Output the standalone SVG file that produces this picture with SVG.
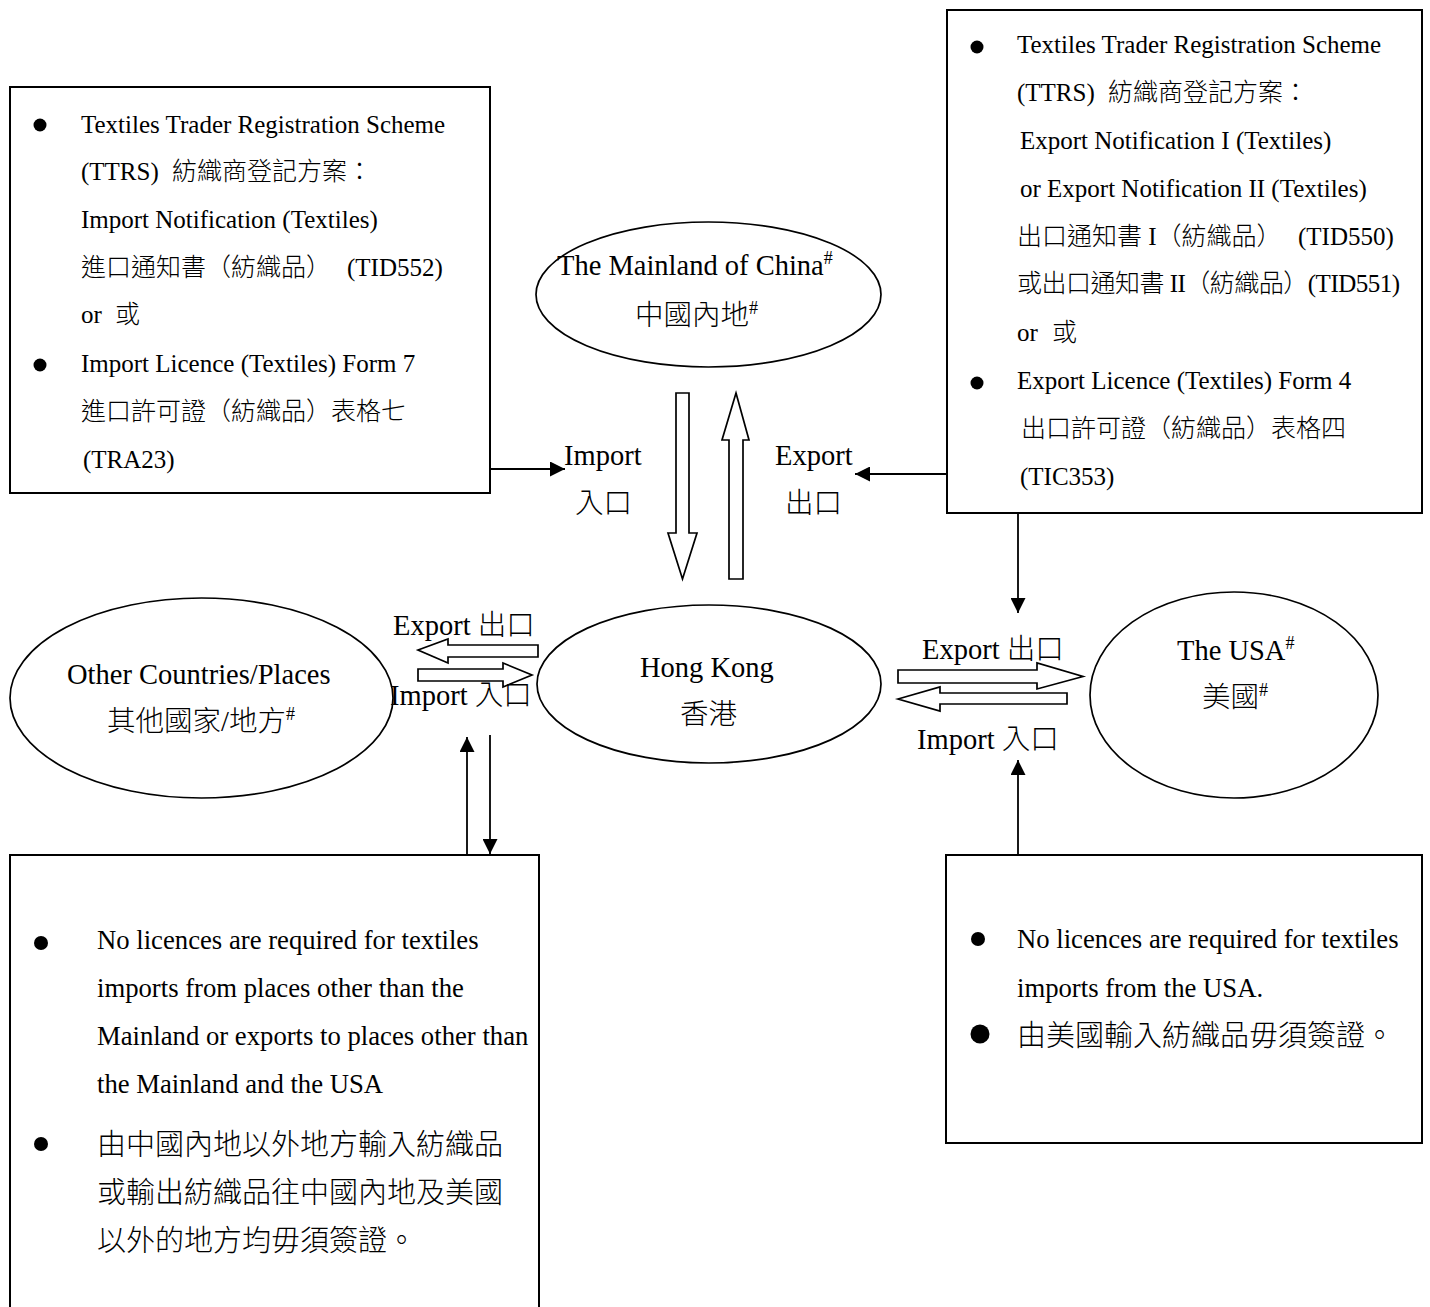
<svg xmlns="http://www.w3.org/2000/svg" width="1430" height="1307" viewBox="0 0 1430 1307">
<style>
  .box { fill: #fff; stroke: #000; stroke-width: 2; }
  .ell { fill: #fff; stroke: #000; stroke-width: 1.7; }
  .hollow { fill: #fff; stroke: #000; stroke-width: 1.7; stroke-linejoin: miter; }
  .conn { fill: none; stroke: #000; stroke-width: 1.8; }
  text { font-family: "Liberation Serif", "Noto Sans CJK TC", serif; fill: #000; font-weight: 300; }
  .bx { font-size: 25px; }
  .bb { font-size: 26.7px; }
  .cjk { font-size: 29px; }
  .lbl { font-size: 28.5px; }
  .sup { font-size: 18px; font-weight: 400; }
  .dot { fill: #000; }
</style>
<defs>
  <marker id="ah" markerUnits="userSpaceOnUse" markerWidth="15" markerHeight="15" refX="15" refY="7.5" orient="auto">
    <path d="M0,0 L15,7.5 L0,15 Z" fill="#000"/>
  </marker>
</defs>
<rect width="1430" height="1307" fill="#fff"/>

<g id="box-import-docs">
  <rect class="box" x="10" y="87" width="480" height="406"/>
  <circle class="dot" cx="40" cy="125" r="6.5"/>
  <circle class="dot" cx="40" cy="365" r="6.5"/>
  <text class="bx" x="81" y="133">Textiles Trader Registration Scheme</text>
  <text class="bx" y="180"><tspan x="81">(TTRS)</tspan><tspan x="172">紡織商登記方案：</tspan></text>
  <text class="bx" x="81" y="228">Import Notification (Textiles)</text>
  <text class="bx" y="276"><tspan x="81">進口通知書（紡織品）</tspan><tspan x="347">(TID552)</tspan></text>
  <text class="bx" y="323"><tspan x="81">or</tspan><tspan x="115">或</tspan></text>
  <text class="bx" x="81" y="372">Import Licence (Textiles) Form 7</text>
  <text class="bx" x="81" y="420">進口許可證（紡織品）表格七</text>
  <text class="bx" x="83" y="468">(TRA23)</text>
</g>

<g id="box-export-docs">
  <rect class="box" x="947" y="10" width="475" height="503"/>
  <circle class="dot" cx="977" cy="47" r="6.5"/>
  <circle class="dot" cx="977" cy="383" r="6.5"/>
  <text class="bx" x="1017" y="53">Textiles Trader Registration Scheme</text>
  <text class="bx" y="101"><tspan x="1017">(TTRS)</tspan><tspan x="1108">紡織商登記方案：</tspan></text>
  <text class="bx" x="1020" y="149">Export Notification I (Textiles)</text>
  <text class="bx" x="1020" y="197">or Export Notification II (Textiles)</text>
  <text class="bx" y="245"><tspan x="1017">出口通知書 I（紡織品）</tspan><tspan x="1298">(TID550)</tspan></text>
  <text class="bx" x="1017" y="292" textLength="383" lengthAdjust="spacing">或出口通知書 II（紡織品）(TID551)</text>
  <text class="bx" y="341"><tspan x="1017">or</tspan><tspan x="1052">或</tspan></text>
  <text class="bx" x="1017" y="389">Export Licence (Textiles) Form 4</text>
  <text class="bx" x="1021" y="437">出口許可證（紡織品）表格四</text>
  <text class="bx" x="1020" y="485">(TIC353)</text>
</g>

<g id="box-other-note">
  <rect class="box" x="10" y="855" width="529" height="470"/>
  <circle class="dot" cx="41" cy="943" r="7"/>
  <circle class="dot" cx="41" cy="1144" r="7"/>
  <text class="bb" x="97" y="949">No licences are required for textiles</text>
  <text class="bb" x="97" y="997">imports from places other than the</text>
  <text class="bb" x="97" y="1045">Mainland or exports to places other than</text>
  <text class="bb" x="97" y="1093">the Mainland and the USA</text>
  <text class="cjk" x="97" y="1155">由中國內地以外地方輸入紡織品</text>
  <text class="cjk" x="97" y="1203">或輸出紡織品往中國內地及美國</text>
  <text class="cjk" x="97" y="1251">以外的地方均毋須簽證。</text>
</g>

<g id="box-usa-note">
  <rect class="box" x="946" y="855" width="476" height="288"/>
  <circle class="dot" cx="978" cy="939" r="7"/>
  <circle class="dot" cx="980" cy="1034" r="9.5"/>
  <text class="bb" x="1017" y="948">No licences are required for textiles</text>
  <text class="bb" x="1017" y="997">imports from the USA.</text>
  <text class="cjk" x="1017" y="1046">由美國輸入紡織品毋須簽證。</text>
</g>

<g id="node-mainland">
  <ellipse class="ell" cx="708.5" cy="294.5" rx="172.5" ry="72.5"/>
  <text class="lbl" x="557" y="275">The Mainland of China<tspan class="sup" dy="-11">#</tspan></text>
  <text class="lbl" x="635" y="325">中國內地<tspan class="sup" dy="-11">#</tspan></text>
</g>

<g id="node-hongkong">
  <ellipse class="ell" cx="709" cy="684" rx="172" ry="79"/>
  <text class="lbl" x="640" y="677">Hong Kong</text>
  <text class="lbl" x="680" y="724">香港</text>
</g>

<g id="node-other">
  <ellipse class="ell" cx="201.5" cy="698" rx="191.5" ry="100"/>
  <text class="lbl" x="67" y="684">Other Countries/Places</text>
  <text class="lbl" x="107" y="731">其他國家/地方<tspan class="sup" dy="-11">#</tspan></text>
</g>

<g id="node-usa">
  <ellipse class="ell" cx="1234" cy="695" rx="144" ry="103"/>
  <text class="lbl" x="1177" y="660">The USA<tspan class="sup" dy="-11">#</tspan></text>
  <text class="lbl" x="1202" y="707">美國<tspan class="sup" dy="-11">#</tspan></text>
</g>

<g id="connectors">
  <polygon class="hollow" points="676,393 689,393 689,533 697,533 682.5,579 668,533 676,533"/>
  <polygon class="hollow" points="736,393 749,440 743,440 743,579 729,579 729,440 722,440"/>
  <polygon class="hollow" points="418,650 448,639 448,645 538,645 538,657 448,657 448,663"/>
  <polygon class="hollow" points="418,669 503,669 503,663 532,675 503,687 503,681 418,681"/>
  <polygon class="hollow" points="898,670 1037,670 1037,663 1083,676.5 1037,689 1037,683 898,683"/>
  <polygon class="hollow" points="898,699 940,687 940,693 1067,693 1067,704 940,704 940,711"/>
  <line class="conn" x1="490" y1="469" x2="565" y2="469" marker-end="url(#ah)"/>
  <line class="conn" x1="947" y1="474" x2="855" y2="474" marker-end="url(#ah)"/>
  <line class="conn" x1="1018" y1="513" x2="1018" y2="613" marker-end="url(#ah)"/>
  <line class="conn" x1="1018" y1="855" x2="1018" y2="760" marker-end="url(#ah)"/>
  <line class="conn" x1="467" y1="855" x2="467" y2="737" marker-end="url(#ah)"/>
  <line class="conn" x1="490" y1="735" x2="490" y2="854" marker-end="url(#ah)"/>
  <text class="lbl" x="564" y="465">Import</text>
  <text class="lbl" x="575" y="513">入口</text>
  <text class="lbl" x="775" y="465">Export</text>
  <text class="lbl" x="785" y="513">出口</text>
  <text class="lbl" x="393" y="635">Export 出口</text>
  <text class="lbl" x="390" y="705">Import 入口</text>
  <text class="lbl" x="922" y="659">Export 出口</text>
  <text class="lbl" x="917" y="749">Import 入口</text>
</g>
</svg>
